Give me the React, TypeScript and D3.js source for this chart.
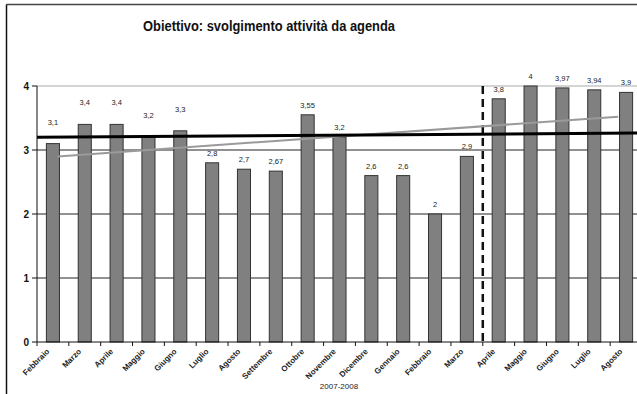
import React from "react";
import * as d3 from "d3";

const categories = [
  "Febbraio", "Marzo", "Aprile", "Maggio", "Giugno", "Luglio", "Agosto",
  "Settembre", "Ottobre", "Novembre", "Dicembre", "Gennaio", "Febbraio",
  "Marzo", "Aprile", "Maggio", "Giugno", "Luglio", "Agosto",
];
const values = [3.1, 3.4, 3.4, 3.2, 3.3, 2.8, 2.7, 2.67, 3.55, 3.2, 2.6, 2.6, 2, 2.9, 3.8, 4, 3.97, 3.94, 3.9];
const valueLabels = ["3,1", "3,4", "3,4", "3,2", "3,3", "2,8", "2,7", "2,67", "3,55", "3,2", "2,6", "2,6", "2", "2,9", "3,8", "4", "3,97", "3,94", "3,9"];
const yTicks = [0, 1, 2, 3, 4];
// trend lines: [startIndexPos, startValue, endIndexPos, endValue] in band units
const trendBlack = [0, 3.198, 19, 3.265];
const trendGray = [0.65, 2.9, 18.25, 3.52];
const dividerIndex = 14;
const title = "Obiettivo: svolgimento attività da agenda";
const xAxisTitle = "2007-2008";

const W = 637;
const H = 394;
const left = 37;
const right = 642;
const top = 86;
const bottom = 342;

export default function App() {
  const x = d3
    .scaleBand<number>()
    .domain(d3.range(categories.length))
    .range([left, right])
    .paddingInner(0.59)
    .paddingOuter(0.295);
  const xi = d3.scaleLinear().domain([0, categories.length]).range([left, right]);
  const y = d3.scaleLinear().domain([0, 4]).range([bottom, top]);
  const cx = (i: number) => (x(i) as number) + x.bandwidth() / 2;
  const font = "'Liberation Sans', Arial, sans-serif";

  return (
    <svg width={W} height={H} style={{ position: "absolute", left: 0, top: 0, background: "#fff" }} fontFamily={font}>
      <defs>
        <clipPath id="clip">
          <rect x={0} y={0} width={W} height={H} />
        </clipPath>
      </defs>
      <rect x={0} y={0} width={W} height={H} fill="#fff" />
      {/* frame */}
      <line x1={6.5} y1={4.5} x2={W} y2={4.5} stroke="#444" strokeWidth={1.5} />
      <line x1={6.5} y1={4.5} x2={6.5} y2={H} stroke="#111" strokeWidth={1.5} />

      <text x={269} y={31} textAnchor="middle" fontSize={14.5} fontWeight="bold" fill="#111" textLength={252} lengthAdjust="spacingAndGlyphs">
        {title}
      </text>

      {/* grid */}
      {yTicks.filter((t) => t > 0).map((t) => (
        <line key={t} x1={left} x2={right} y1={y(t)} y2={y(t)} stroke={t === 4 ? "#aaa" : "#222"} strokeWidth={1} />
      ))}

      {/* bars */}
      {values.map((v, i) => (
        <rect key={i} x={x(i)} y={y(v)} width={x.bandwidth()} height={y(0) - y(v)} fill="#808080" stroke="#333" strokeWidth={1} />
      ))}

      {/* y axis */}
      <line x1={left} x2={left} y1={top} y2={bottom} stroke="#111" strokeWidth={1} />
      {yTicks.map((t) => (
        <g key={t}>
          <line x1={left - 5} x2={left} y1={y(t)} y2={y(t)} stroke="#111" />
          <text x={left - 8} y={y(t)} dy="0.35em" textAnchor="end" fontSize={10} fontWeight="bold" fill="#111">
            {t}
          </text>
        </g>
      ))}

      {/* x axis */}
      <line x1={left} x2={right} y1={bottom} y2={bottom} stroke="#111" strokeWidth={1} />
      {d3.range(categories.length + 1).map((i) => (
        <line key={i} x1={xi(i)} x2={xi(i)} y1={bottom} y2={bottom + 4} stroke="#111" />
      ))}

      {/* divider */}
      <line x1={xi(dividerIndex)} x2={xi(dividerIndex)} y1={top} y2={bottom} stroke="#111" strokeWidth={2.5} strokeDasharray="8,5" />

      {/* trend lines */}
      <line x1={xi(trendGray[0])} y1={y(trendGray[1])} x2={xi(trendGray[2])} y2={y(trendGray[3])} stroke="#9a9a9a" strokeWidth={2} />
      <line x1={xi(trendBlack[0])} y1={y(trendBlack[1])} x2={xi(trendBlack[2])} y2={y(trendBlack[3])} stroke="#000" strokeWidth={3} />

      {/* value labels */}
      {values.map((v, i) => (
        <text key={i} x={cx(i)} y={y(v) - (i < 5 ? 19 : 7)} textAnchor="middle" fontSize={7.5} fill="#222">
          {valueLabels[i]}
        </text>
      ))}

      {/* category labels */}
      {categories.map((c, i) => (
        <text key={i} transform={`translate(${cx(i) - 3},${bottom + 10}) rotate(-45)`} textAnchor="end" fontSize={8} fontWeight="bold" fill="#222">
          {c}
        </text>
      ))}

      <text x={339} y={389} textAnchor="middle" fontSize={8} fill="#222">
        {xAxisTitle}
      </text>
    </svg>
  );
}
